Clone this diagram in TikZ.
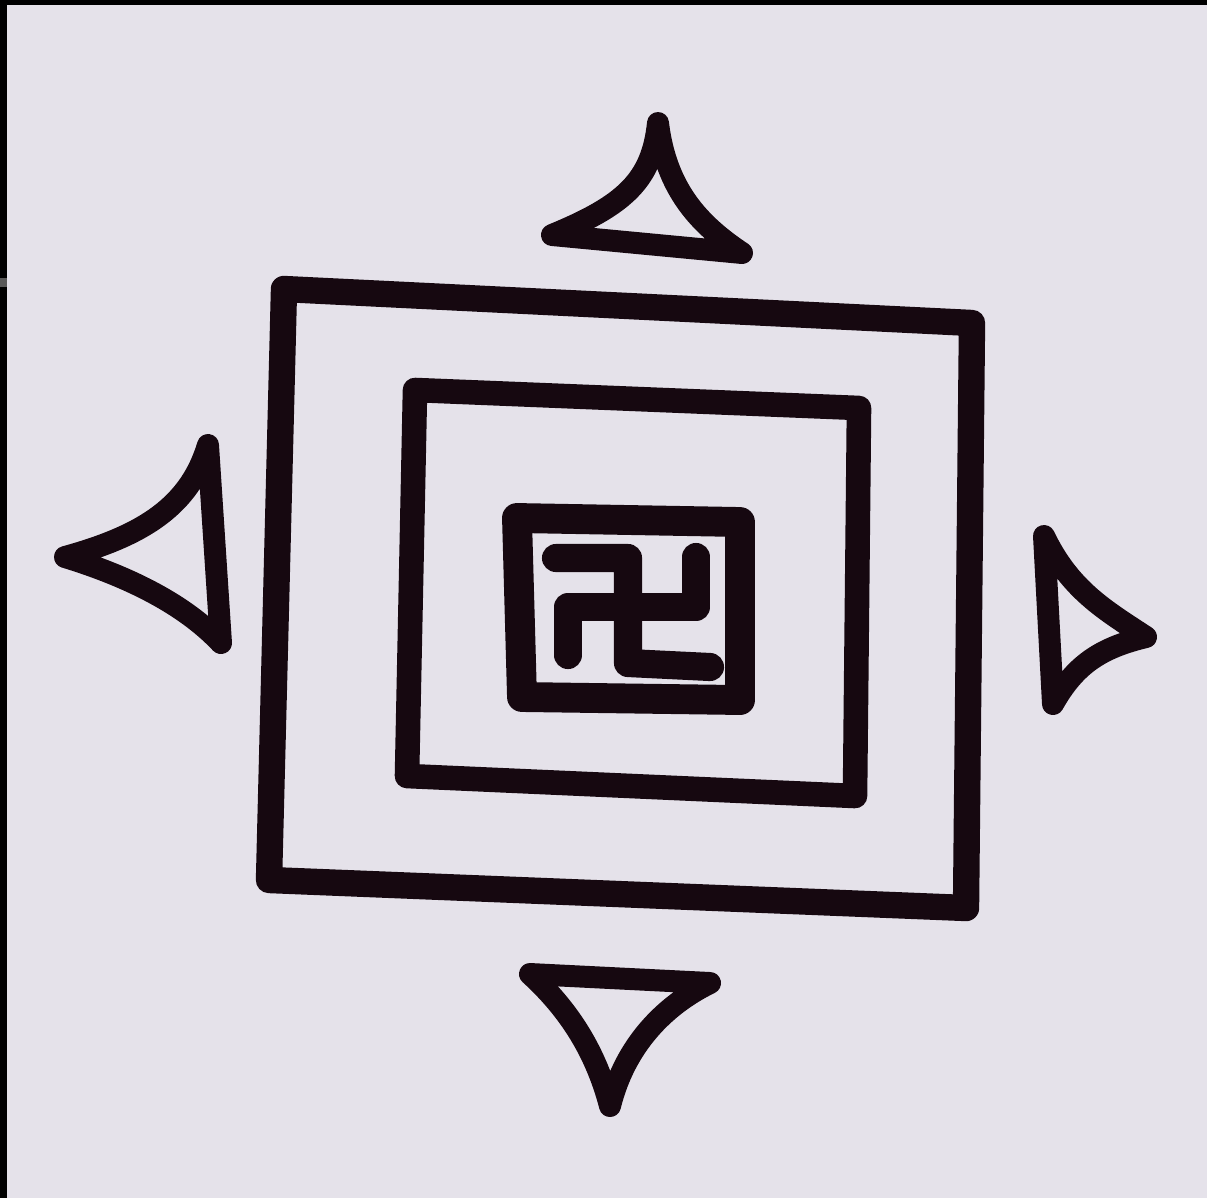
\documentclass[tikz,border=0pt]{standalone}
\definecolor{paper}{RGB}{229,226,234}
\definecolor{ink}{RGB}{22,8,16}
\begin{document}
\begin{tikzpicture}[x=0.02cm,y=-0.02cm,
  inkline/.style={draw=ink,line join=round,line cap=round},
  bigsq/.style={inkline,line width=15pt},
  midsq/.style={inkline,line width=14pt},
  smallsq/.style={inkline,line width=17pt},
  armstroke/.style={inkline,line width=16pt},
  spike/.style={inkline,line width=12.5pt}]
\fill[paper] (0,0) rectangle (1207,1198);
\useasboundingbox (0,0) rectangle (1207,1198);
% photo frame edges
\fill[black] (0,0) rectangle (1207,5);
\fill[black] (0,0) rectangle (7,1198);
\fill[black!65] (0,278) rectangle (7,287);
% outer square
\draw[bigsq] (284,289) -- (972,323) -- (966,908) -- (269,880) -- cycle;
% inner square
\draw[midsq] (415,390) -- (859,408) -- (855,796) -- (407,776) -- cycle;
% small square
\draw[smallsq] (517,518) -- (740,522) -- (740,700) -- (522,697) -- cycle;
% central sign
\draw[armstroke] (556,558) -- (628,558) -- (628,663) -- (710,667);
\draw[armstroke] (568,655) -- (568,607) -- (696,607) -- (696,557);
% top spike
\draw[spike] (658,123) .. controls (652,180) and (625,205) .. (552,235)
  -- (742,253) .. controls (700,225) and (666,190) .. cycle;
% left spike
\draw[spike] (65,557) .. controls (145,535) and (190,505) .. (208,445)
  -- (221,643) .. controls (190,610) and (140,580) .. cycle;
% right spike
\draw[spike] (1146,637) .. controls (1105,610) and (1070,590) .. (1044,536)
  -- (1053,704) .. controls (1075,665) and (1100,648) .. cycle;
% bottom spike
\draw[spike] (610,1106) .. controls (598,1060) and (575,1015) .. (530,974)
  -- (710,983) .. controls (665,1005) and (625,1045) .. cycle;
\end{tikzpicture}
\end{document}
